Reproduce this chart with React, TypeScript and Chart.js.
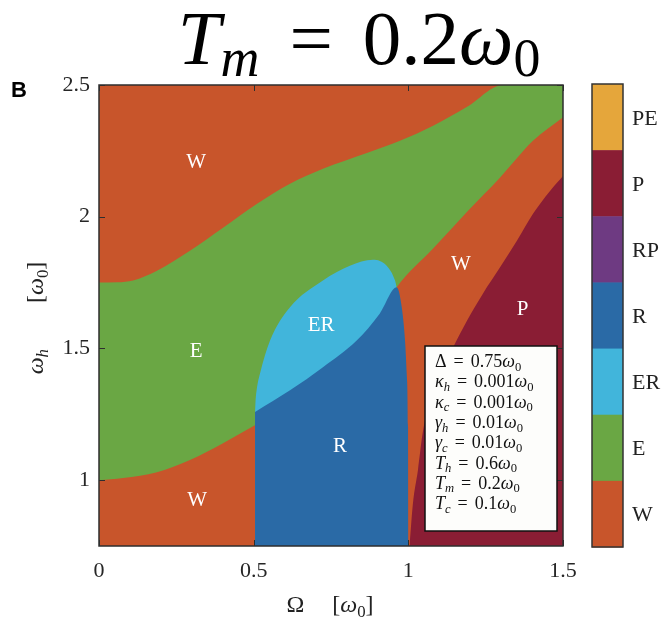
import React, { useEffect, useRef } from 'react';
import { Chart, registerables } from 'chart.js';

Chart.register(...registerables);

const SERIF = '"Liberation Serif", "Times New Roman", serif';

// ---------- axis ticks ----------
const xTicks = [0, 0.5, 1, 1.5];
const yTicks = [1, 1.5, 2, 2.5];

// ---------- phase boundaries (Omega, omega_h) ----------
// background (W) fills whole plane
const bgX = [0, 1.5];
const bgY = [2.5, 2.5];

// upper edge of the E (green) band
const eUpperX = [0, 0.06, 0.11, 0.1875, 0.294, 0.401, 0.511, 0.6175, 0.724, 0.866, 0.973, 1.08, 1.19, 1.306, 1.5];
const eUpperY = [1.75, 1.751, 1.758, 1.795, 1.871, 1.958, 2.049, 2.125, 2.182, 2.242, 2.288, 2.345, 2.417, 2.5, 2.5];

// lower edge of the E band (W below it)
const eLowerX = [0, 0.078, 0.1875, 0.294, 0.401, 0.504, 0.56, 0.6175, 0.724, 0.833, 0.908, 0.9625, 1.08, 1.19, 1.296, 1.403, 1.5];
const eLowerY = [1.0, 1.008, 1.03, 1.076, 1.14, 1.208, 1.245, 1.3, 1.41, 1.52, 1.625, 1.732, 1.879, 2.019, 2.148, 2.288, 2.378];

// outer edge of the ER region
const erX = [0.5044, 0.506, 0.51, 0.5205, 0.553, 0.6175, 0.724, 0.811, 0.886, 0.93, 0.957, 0.9625];
const erY = [1.259, 1.3, 1.345, 1.405, 1.53, 1.656, 1.758, 1.814, 1.837, 1.814, 1.758, 1.732];

// upper / right edge of the R region
const rX = [0.5044, 0.6175, 0.724, 0.833, 0.908, 0.9625, 0.9787, 0.9893, 0.9948, 0.9992, 1.0007];
const rY = [1.259, 1.341, 1.429, 1.53, 1.633, 1.732, 1.656, 1.53, 1.405, 1.202, 0.75];

// left edge of the P region
const pX = [1.004, 1.015, 1.031, 1.048, 1.093, 1.145, 1.19, 1.241, 1.296, 1.351, 1.403, 1.458, 1.5];
const pY = [0.75, 0.913, 1.038, 1.19, 1.367, 1.504, 1.606, 1.708, 1.807, 1.909, 2.011, 2.098, 2.155];

// ---------- phases / colour bar ----------
const phaseNames = ['PE', 'P', 'RP', 'R', 'ER', 'E', 'W'];
const phaseColors = ['#E5A63B', '#8A1D34', '#6E3A82', '#2A6AA6', '#41B5DB', '#6AA744', '#C8552B'];

// ---------- region labels ----------
const regionText = ['W', 'W', 'P', 'E', 'ER', 'R', 'W'];
const regionX = [0.314, 1.17, 1.369, 0.314, 0.718, 0.779, 0.317];
const regionY = [2.212, 1.826, 1.652, 1.494, 1.593, 1.134, 0.93];

// ---------- parameter box ----------
const paramSymbols = ['Δ', 'κ_h', 'κ_c', 'γ_h', 'γ_c', 'T_h', 'T_m', 'T_c'];
const paramValues = ['0.75', '0.001', '0.001', '0.01', '0.01', '0.6', '0.2', '0.1'];

const colorOf = (name: string) => phaseColors[phaseNames.indexOf(name)];

type Part = { t: string; i?: boolean; s?: boolean; g?: number };

function fontFor(p: Part, size: number) {
  const sz = p.s ? size * 0.7 : size;
  return `${p.i ? 'italic ' : ''}${sz}px ${SERIF}`;
}
function richWidth(ctx: CanvasRenderingContext2D, parts: Part[], size: number) {
  let w = 0;
  for (const p of parts) {
    ctx.font = fontFor(p, size);
    w += (p.g || 0) + ctx.measureText(p.t).width;
  }
  return w;
}
function drawRich(
  ctx: CanvasRenderingContext2D,
  parts: Part[],
  x: number,
  y: number,
  size: number,
  color: string,
  align: 'left' | 'center' | 'right',
  subShift = 0.22
) {
  const w = richWidth(ctx, parts, size);
  let cx = align === 'left' ? x : align === 'center' ? x - w / 2 : x - w;
  ctx.fillStyle = color;
  ctx.textAlign = 'left';
  ctx.textBaseline = 'alphabetic';
  for (const p of parts) {
    cx += p.g || 0;
    ctx.font = fontFor(p, size);
    ctx.fillText(p.t, cx, y + (p.s ? size * subShift : 0));
    cx += ctx.measureText(p.t).width;
  }
}

function symParts(sym: string): Part[] {
  const [main, sub] = sym.split('_');
  const italic = main !== 'Δ';
  const out: Part[] = [{ t: main, i: italic }];
  if (sub) out.push({ t: sub, i: true, s: true });
  return out;
}

const pts = (xs: number[], ys: number[]) => xs.map((x, i) => ({ x, y: ys[i] }));

const overlay = {
  id: 'overlay',
  afterDraw(chart: any) {
    const { ctx, chartArea: a } = chart;
    const sx = chart.scales.x;
    const sy = chart.scales.y;
    ctx.save();

    // region labels
    regionText.forEach((t, i) => {
      drawRich(ctx, [{ t }], sx.getPixelForValue(regionX[i]), sy.getPixelForValue(regionY[i]) + 7, 21, '#ffffff', 'center');
    });

    // frame
    ctx.strokeStyle = '#2e2e2e';
    ctx.lineWidth = 1.5;
    ctx.strokeRect(a.left, a.top, a.right - a.left, a.bottom - a.top);

    // inward ticks
    ctx.lineWidth = 1;
    ctx.beginPath();
    xTicks.forEach((v) => {
      const px = Math.round(sx.getPixelForValue(v)) + 0.5;
      ctx.moveTo(px, a.bottom);
      ctx.lineTo(px, a.bottom - 6);
      ctx.moveTo(px, a.top);
      ctx.lineTo(px, a.top + 6);
    });
    yTicks.forEach((v) => {
      const py = Math.round(sy.getPixelForValue(v)) + 0.5;
      ctx.moveTo(a.left, py);
      ctx.lineTo(a.left + 6, py);
      ctx.moveTo(a.right, py);
      ctx.lineTo(a.right - 6, py);
    });
    ctx.stroke();

    // parameter box
    const bw = 132;
    const bh = 185;
    const bx = a.right - 6 - bw;
    const by = a.bottom - 15 - bh;
    ctx.fillStyle = '#fdfdfb';
    ctx.fillRect(bx, by, bw, bh);
    ctx.strokeStyle = '#111';
    ctx.lineWidth = 1.5;
    ctx.strokeRect(bx, by, bw, bh);
    paramSymbols.forEach((sym, i) => {
      const parts: Part[] = [
        ...symParts(sym),
        { t: '=', g: 7 },
        { t: paramValues[i], g: 7 },
        { t: 'ω', i: true },
        { t: '0', s: true },
      ];
      drawRich(ctx, parts, bx + 10, by + 21 + i * 20.3, 18, '#111', 'left', 0.2);
    });

    // colour bar
    const cbx = 592;
    const cbw = 31;
    const cbTop = 84;
    const cbBot = 547;
    const seg = (cbBot - cbTop) / phaseNames.length;
    phaseNames.forEach((name, i) => {
      ctx.fillStyle = phaseColors[i];
      ctx.fillRect(cbx, cbTop + i * seg, cbw, seg + 0.5);
      drawRich(ctx, [{ t: name }], cbx + 40, cbTop + i * seg + seg / 2 + 7.5, 22, '#222', 'left');
    });
    ctx.strokeStyle = '#333';
    ctx.lineWidth = 1.5;
    ctx.strokeRect(cbx, cbTop, cbw, cbBot - cbTop);

    // title
    drawRich(
      ctx,
      [
        { t: 'T', i: true },
        { t: 'm', i: true, s: true },
        { t: '=', g: 30 },
        { t: '0.2', g: 30 },
        { t: 'ω', i: true },
        { t: '0', s: true },
      ],
      359,
      64,
      77,
      '#000',
      'center',
      0.16
    );

    // x axis title
    drawRich(
      ctx,
      [{ t: 'Ω' }, { t: '[', g: 28 }, { t: 'ω', i: true }, { t: '0', s: true }, { t: ']' }],
      330,
      612,
      24,
      '#222',
      'center'
    );

    // y axis title
    ctx.save();
    ctx.translate(43, 318);
    ctx.rotate(-Math.PI / 2);
    drawRich(
      ctx,
      [{ t: 'ω', i: true }, { t: 'h', i: true, s: true }, { t: '[', g: 46 }, { t: 'ω', i: true }, { t: '0', s: true }, { t: ']' }],
      0,
      0,
      24,
      '#222',
      'center'
    );
    ctx.restore();

    // panel letter
    ctx.fillStyle = '#000';
    ctx.font = 'bold 22px "Liberation Sans", Arial, sans-serif';
    ctx.textAlign = 'left';
    ctx.textBaseline = 'alphabetic';
    ctx.fillText('B', 11, 97);

    ctx.restore();
  },
};

function area(xs: number[], ys: number[], color: string, order: number) {
  return {
    data: pts(xs, ys),
    fill: 'start',
    backgroundColor: color,
    borderColor: 'rgba(0,0,0,0)',
    borderWidth: 0,
    pointRadius: 0,
    pointHoverRadius: 0,
    cubicInterpolationMode: 'monotone',
    order,
  };
}

export default function App() {
  const ref = useRef<HTMLCanvasElement | null>(null);

  useEffect(() => {
    if (!ref.current) return;
    const chart = new Chart(ref.current, {
      type: 'line',
      data: {
        datasets: [
          area(bgX, bgY, colorOf('W'), 10),
          area(eUpperX, eUpperY, colorOf('E'), 9),
          area(eLowerX, eLowerY, colorOf('W'), 8),
          area(erX, erY, colorOf('ER'), 7),
          area(rX, rY, colorOf('R'), 6),
          area(pX, pY, colorOf('P'), 5),
        ] as any,
      },
      options: {
        animation: false,
        responsive: false,
        devicePixelRatio: 1,
        events: [],
        layout: { padding: { top: 85, right: 102, left: 0, bottom: 0 } },
        plugins: {
          legend: { display: false },
          tooltip: { enabled: false },
          title: { display: false },
        },
        scales: {
          x: {
            type: 'linear',
            min: 0,
            max: 1.5,
            afterBuildTicks: (s: any) => {
              s.ticks = xTicks.map((v) => ({ value: v }));
            },
            afterFit: (s: any) => {
              s.height = 74;
            },
            grid: { display: false, drawTicks: false },
            border: { display: false },
            ticks: {
              font: { family: SERIF, size: 22 },
              color: '#262626',
              padding: 12,
              maxRotation: 0,
              autoSkip: false,
              callback: (v: any) => String(v),
            },
          },
          y: {
            type: 'linear',
            min: 0.75,
            max: 2.5,
            afterBuildTicks: (s: any) => {
              s.ticks = yTicks.map((v) => ({ value: v }));
            },
            afterFit: (s: any) => {
              s.width = 99;
            },
            grid: { display: false, drawTicks: false },
            border: { display: false },
            ticks: {
              font: { family: SERIF, size: 22 },
              color: '#262626',
              padding: 9,
              autoSkip: false,
              callback: (v: any) => String(v),
            },
          },
        },
      } as any,
      plugins: [overlay],
    });
    return () => chart.destroy();
  }, []);

  return (
    <div style={{ position: 'fixed', left: 0, top: 0, width: 665, height: 620, background: '#fff' }}>
      <canvas ref={ref} width={665} height={620} style={{ display: 'block', width: 665, height: 620 }} />
    </div>
  );
}
